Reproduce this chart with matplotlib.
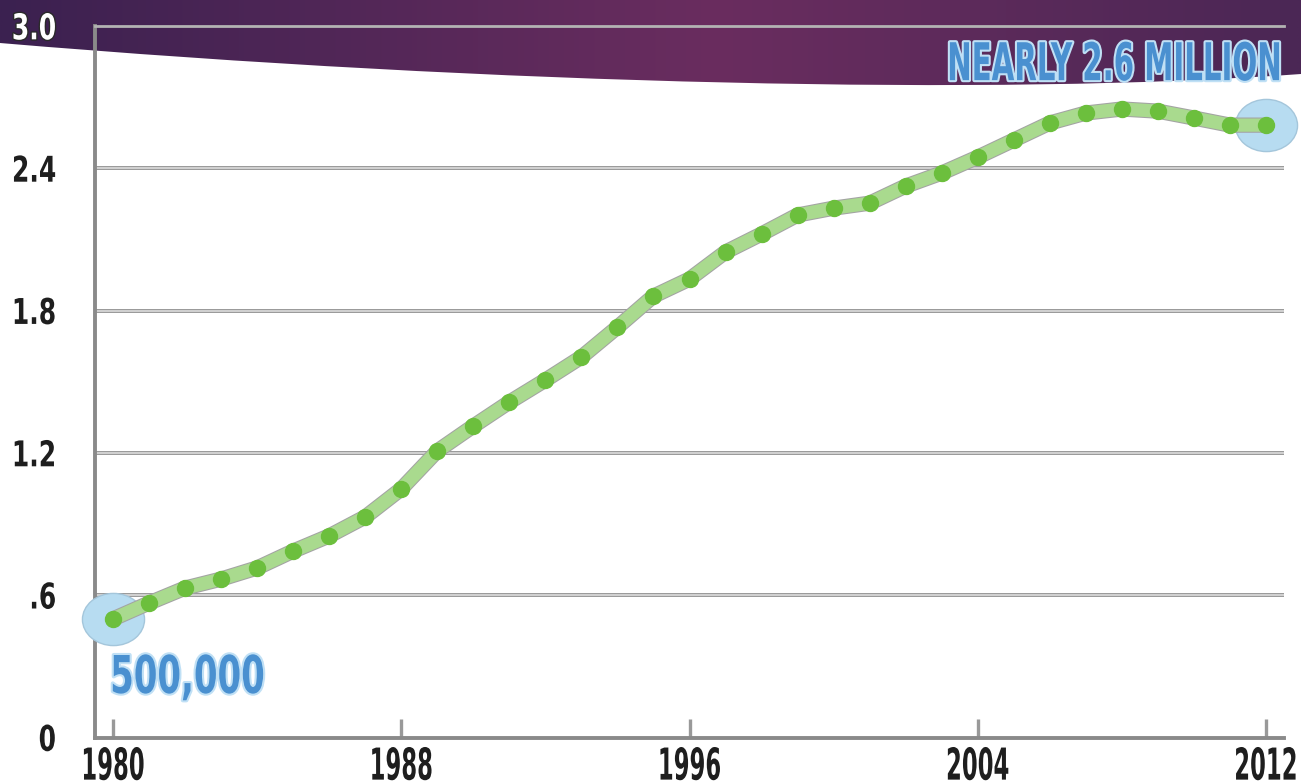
import matplotlib
matplotlib.use("Agg")
import matplotlib.pyplot as plt
import matplotlib.patheffects as pe
import numpy as np
from matplotlib.path import Path
from matplotlib.patches import PathPatch
from matplotlib.colors import LinearSegmentedColormap
from matplotlib.transforms import Affine2D

# Population, millions, 1980-2012
years = list(range(1980, 2013))
millions = [0.50, 0.567, 0.63, 0.668, 0.715, 0.786, 0.85, 0.93, 1.048, 1.208,
            1.313, 1.414, 1.507, 1.604, 1.73, 1.861, 1.933, 2.047, 2.123, 2.203,
            2.232, 2.253, 2.325, 2.38, 2.447, 2.519, 2.591, 2.633, 2.65, 2.641,
            2.612, 2.582, 2.582]

y_ticks = [0, 0.6, 1.2, 1.8, 2.4, 3.0]
y_tick_labels = ["0", ".6", "1.2", "1.8", "2.4", "3.0"]
x_ticks = [1980, 1988, 1996, 2004, 2012]
x_tick_labels = ["1980", "1988", "1996", "2004", "2012"]

start_label = "500,000"
end_label = "NEARLY 2.6 MILLION"

plt.rcParams["font.family"] = ["DejaVu Sans"]
plt.rcParams["font.weight"] = "bold"


class Narrow(pe.AbstractPathEffect):
    """Rescale glyph outlines (tall, narrow display lettering)."""

    def __init__(self, sx, sy, hanchor="center", vanchor="center", stroke=None):
        super().__init__()
        self.sx, self.sy = sx, sy
        self.hanchor, self.vanchor = hanchor, vanchor
        self.stroke = stroke

    def draw_path(self, renderer, gc, tpath, affine, rgbFace=None):
        bb = tpath.get_extents(affine)
        x0 = {"left": bb.x0, "right": bb.x1,
              "center": 0.5 * (bb.x0 + bb.x1)}[self.hanchor]
        y0 = {"top": bb.y1, "bottom": bb.y0,
              "center": 0.5 * (bb.y0 + bb.y1),
              "baseline": affine.get_matrix()[1, 2]}[self.vanchor]
        t = affine + (Affine2D().translate(-x0, -y0)
                      .scale(self.sx, self.sy).translate(x0, y0))
        if self.stroke is not None:
            gc0 = renderer.new_gc()
            gc0.copy_properties(gc)
            gc0.set_linewidth(self.stroke[0])
            gc0.set_foreground(self.stroke[1])
            renderer.draw_path(gc0, tpath, t, rgbFace)
            gc0.restore()
        renderer.draw_path(gc, tpath, t, rgbFace)


W, H = 1301, 781
fig = plt.figure(figsize=(W / 100, H / 100), dpi=100)
fig.patch.set_facecolor("white")

# Purple header band with a curved lower edge
bg = fig.add_axes([0, 0, 1, 1], zorder=0)
bg.set_xlim(0, W)
bg.set_ylim(H, 0)
bg.axis("off")
band = Path(
    [(0, 0), (W, 0), (W, 74), (1000, 96), (500, 85), (0, 43), (0, 0)],
    [Path.MOVETO, Path.LINETO, Path.LINETO, Path.CURVE4, Path.CURVE4,
     Path.CURVE4, Path.CLOSEPOLY],
)
band_patch = PathPatch(band, facecolor="none", edgecolor="none",
                       transform=bg.transData)
bg.add_patch(band_patch)
cmap = LinearSegmentedColormap.from_list(
    "band", [(0.0, "#3b2150"), (0.55, "#6a2d5f"), (1.0, "#4b2755")])
grad = cmap(np.linspace(0, 1, 512))[None, :, :]
im = bg.imshow(grad, extent=(0, W, 110, 0), aspect="auto")
im.set_clip_path(band_patch)

# Main chart
left, right, bottom, top = 95, 1284, 737.5, 26
ax = fig.add_axes([left / W, 1 - bottom / H, (right - left) / W,
                   (bottom - top) / H], zorder=2)
ax.patch.set_alpha(0)
ax.set_xlim(1979.5, 2012.5)
ax.set_ylim(0, 3.0)

for v in y_ticks[1:-1]:
    ax.axhline(v, color="#d2d2d2", lw=1.4, zorder=1,
               path_effects=[pe.Stroke(linewidth=2.8, foreground="#969696"),
                             pe.Normal()])

for side in ("left", "bottom"):
    ax.spines[side].set_color("#8a8a8a")
    ax.spines[side].set_linewidth(2.8)
ax.spines["top"].set_color("#b3b3b3")
ax.spines["top"].set_linewidth(2.0)
ax.spines["right"].set_visible(False)

ax.set_xticks(x_ticks)
ax.set_xticklabels(x_tick_labels)
ax.set_yticks(y_ticks)
ax.set_yticklabels(y_tick_labels)
ax.tick_params(axis="x", direction="in", length=14, width=2.4,
               color="#999999", pad=6.5, labelsize=18, labelcolor="#1e1e1e")
ax.tick_params(axis="y", length=0, pad=28, labelsize=18,
               labelcolor="#1e1e1e")
for lbl in ax.get_xticklabels():
    lbl.set_path_effects([Narrow(0.91, 1.76, "center", "top")])
for lbl in ax.get_yticklabels():
    if lbl.get_text() == "3.0":
        lbl.set_color("white")
        lbl.set_path_effects([Narrow(1.0, 1.42, "right", "center",
                                     stroke=(2.0, "#2a2a2a"))])
    else:
        lbl.set_path_effects([Narrow(1.0, 1.42, "right", "center")])

# Highlight discs at the first and last year
disc = Path.unit_circle().transformed(Affine2D().scale(1.0, 0.84))
ax.scatter([years[0], years[-1]], [millions[0], millions[-1]], s=2000,
           marker=disc, color="#b7dcf1", edgecolors="#a4c6db", linewidths=1.0,
           zorder=3, clip_on=False)

# Trend line and yearly points
ax.plot(years, millions, color="#a9da8e", lw=9.5, solid_capstyle="round",
        zorder=4, clip_on=False,
        path_effects=[pe.Stroke(linewidth=11.0, foreground="#a3a3a3"),
                      pe.Normal()])
ax.plot(years, millions, "o", ms=11.5, color="#6cbf3d", mec="#6cbf3d",
        zorder=5, clip_on=False)

blue = "#4a90d0"
outline = (3.0, "#c0e0f5")
ax.annotate(start_label, xy=(years[0], millions[0]), xytext=(-3, -74),
            textcoords="offset pixels", ha="left", va="baseline",
            fontsize=26, color=blue, zorder=6,
            path_effects=[Narrow(0.94, 1.44, "left", "baseline",
                                 stroke=outline)])
ax.annotate(end_label, xy=(years[-1], millions[-1]), xytext=(17, 45),
            textcoords="offset pixels", ha="right", va="baseline",
            fontsize=26, color=blue, zorder=6, annotation_clip=False,
            path_effects=[Narrow(0.81, 1.44, "right", "baseline",
                                 stroke=outline)])

fig.savefig("out.png", dpi=100)
